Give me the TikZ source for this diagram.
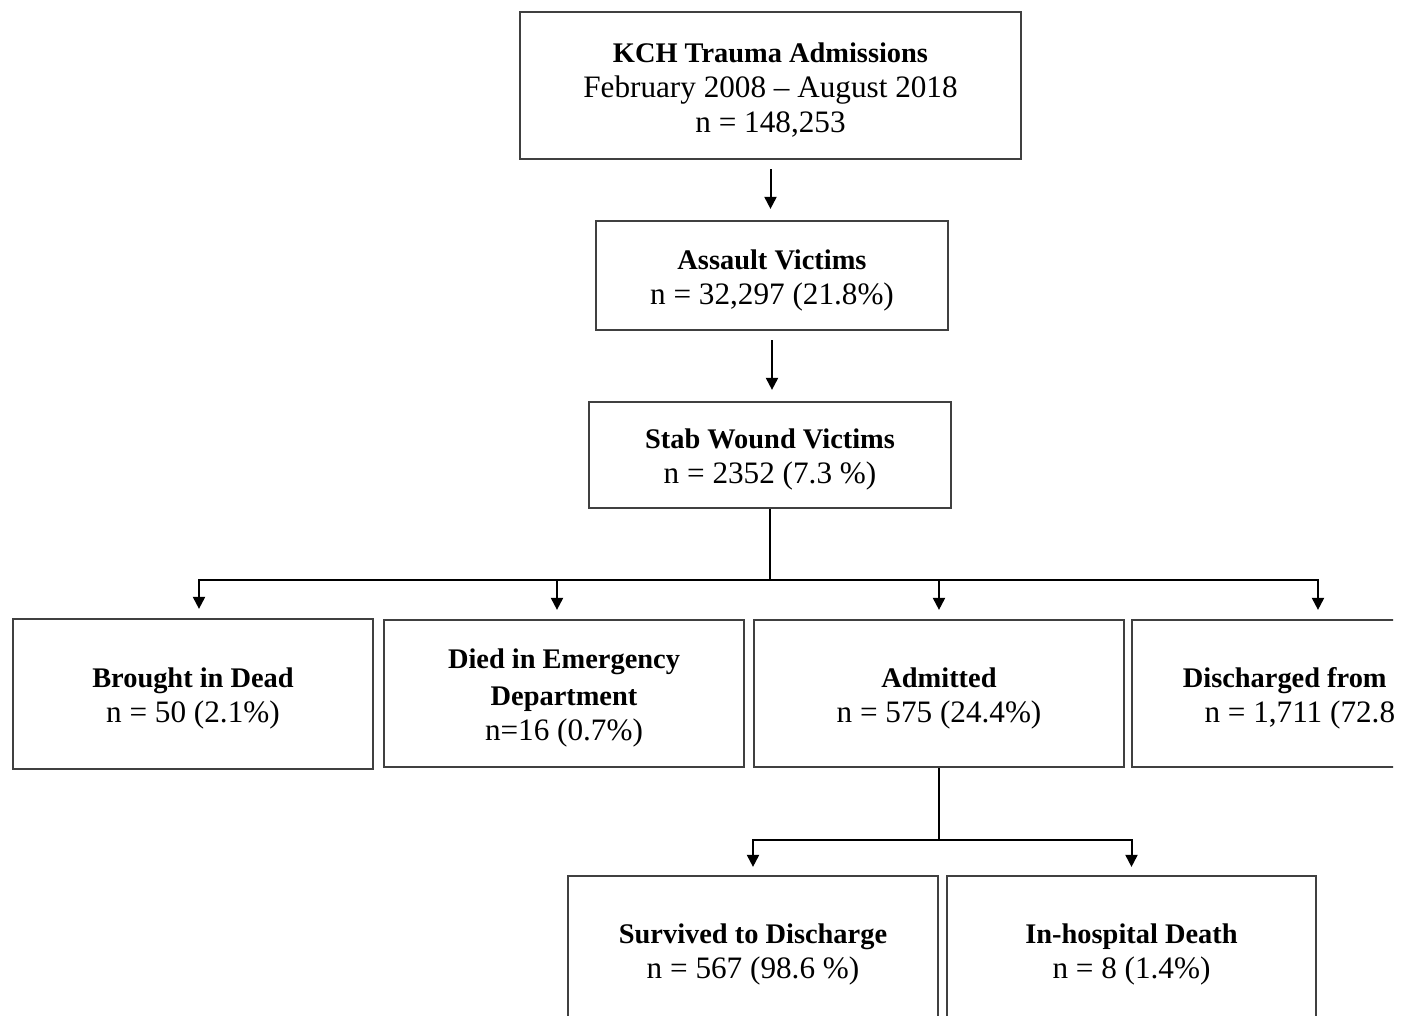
\documentclass[tikz,border=0pt]{standalone}
\usepackage{fontspec}
\setmainfont{Liberation Serif}
\usetikzlibrary{arrows.meta}

\newcommand{\boxhead}[1]{\rule{0pt}{14.5pt}{\fontsize{14.2}{17.5}\selectfont\bfseries #1}}

\begin{document}
\begin{tikzpicture}[x=0.5pt, y=-0.5pt, line width=1pt, >={Triangle[length=6pt, width=6pt]},
  flowbox/.style={draw=black!75, line width=1.1pt, align=center, inner sep=0pt,
    font=\fontsize{15.6}{17.5}\selectfont}]
\useasboundingbox (0,0) rectangle (1410,1016);
\begin{scope}
\clip (0,0) rectangle (1393,1016);
\node [flowbox, minimum width=250.5pt, minimum height=73.5pt] (kch) at (770.5,85.5) {\boxhead{KCH Trauma Admissions}\\February 2008 -- August 2018\\n = 148,253};
\node [flowbox, minimum width=176pt, minimum height=54.5pt] (assault) at (772,275.5) {\boxhead{Assault Victims}\\n = 32,297 (21.8\%)};
\node [flowbox, minimum width=181pt, minimum height=53pt] (stab) at (770,455) {\boxhead{Stab Wound Victims}\\n = 2352 (7.3 \%)};
\node [flowbox, minimum width=180pt, minimum height=75pt] (bid) at (193,694) {\boxhead{Brought in Dead}\\n = 50 (2.1\%)};
\node [flowbox, minimum width=180pt, minimum height=73.5pt] (ded) at (564,693.5) {\boxhead{Died in Emergency}\\\boxhead{Department}\\n=16 (0.7\%)};
\node [flowbox, minimum width=185pt, minimum height=73.5pt] (admitted) at (939,693.5) {\boxhead{Admitted}\\n = 575 (24.4\%)};
\node [flowbox, minimum width=186pt, minimum height=73.5pt] (discharged) at (1318,693.5) {\boxhead{Discharged from Care}\\n = 1,711 (72.8\%)};
\node [flowbox, minimum width=185pt, minimum height=73.5pt] (survived) at (753,949.5) {\boxhead{Survived to Discharge}\\n = 567 (98.6 \%)};
\node [flowbox, minimum width=184.5pt, minimum height=73.5pt] (death) at (1131.5,949.5) {\boxhead{In-hospital Death}\\n = 8 (1.4\%)};

% top chain
\draw [->] ([yshift=-4.5pt]kch.south) -- ([yshift=5.5pt]kch.south |- assault.north);
\draw [->] ([yshift=-4.5pt]assault.south) -- ([yshift=5.5pt]assault.south |- stab.north);

% split after stab wounds
\coordinate (split) at (770,580);
\draw (stab.south) -- (split);
\draw [->] (split) -| ([xshift=3pt, yshift=4.5pt]bid.north);
\draw [->] (split) -| ([xshift=-3.5pt, yshift=4.5pt]ded.north);
\draw [->] (split) -| ([yshift=4.5pt]admitted.north);
\draw [->] (split) -| ([yshift=4.5pt]discharged.north);

% outcome of admitted
\coordinate (outcome) at (939,840);
\draw (admitted.south) -- (outcome);
\draw [->] (outcome) -| ([yshift=4pt]survived.north);
\draw [->] (outcome) -| ([yshift=4pt]death.north);
\end{scope}
\end{tikzpicture}
\end{document}
